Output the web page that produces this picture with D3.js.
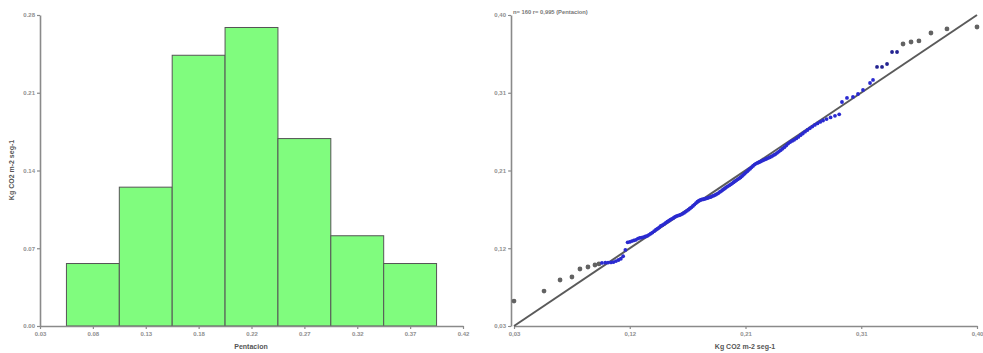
<!DOCTYPE html>
<html>
<head>
<meta charset="utf-8">
<script src="https://cdn.jsdelivr.net/npm/d3@7"></script>
<style>
  html, body { margin: 0; padding: 0; background: #fff; }
  svg { display: block; font-family: "Liberation Sans", Arial, sans-serif; }
</style>
</head>
<body>
<svg id="chart" width="983" height="353"></svg>
<script>
// ---- Histogram: relative frequency of Pentacion flux per class ----
const histCenters = [0.07875, 0.1275, 0.17625, 0.225, 0.27375, 0.3225, 0.37125];
const histShares  = [0.05625, 0.125, 0.24375, 0.26875, 0.16875, 0.08125, 0.05625];
const histBinWidth = 0.04875;
const histXTicks  = [0.03, 0.07875, 0.1275, 0.17625, 0.225, 0.27375, 0.3225, 0.37125, 0.42];
const histXLabels = ["0.03", "0.08", "0.13", "0.18", "0.22", "0.27", "0.32", "0.37", "0.42"];
const histYTicks  = [0, 0.07, 0.14, 0.21, 0.28];
const histYLabels = ["0.00", "0.07", "0.14", "0.21", "0.28"];

// ---- Q-Q plot: expected vs observed quantiles ----
const qqExpected = [
  0.0300, 0.0540, 0.0668, 0.0763, 0.0827, 0.0891, 0.0947, 0.0979,
  0.1003, 0.1030, 0.1052, 0.1075, 0.1095, 0.1115, 0.1135, 0.1154, 0.1172,
  0.1190, 0.1208, 0.1225, 0.1242, 0.1258, 0.1274, 0.1290, 0.1305,
  0.1320, 0.1335, 0.1350, 0.1364, 0.1378, 0.1392, 0.1406, 0.1420, 0.1434, 0.1447, 0.1460,
  0.1473, 0.1486, 0.1499, 0.1512, 0.1525, 0.1538, 0.1550, 0.1562, 0.1574, 0.1586, 0.1598,
  0.1610, 0.1622, 0.1634, 0.1646, 0.1658, 0.1670, 0.1682, 0.1694, 0.1706, 0.1718, 0.1730,
  0.1742, 0.1754, 0.1766, 0.1778, 0.1790,
  0.1802, 0.1813, 0.1824, 0.1835, 0.1846, 0.1857, 0.1868, 0.1879, 0.1890, 0.1901, 0.1912,
  0.1923, 0.1934, 0.1945, 0.1956, 0.1967, 0.1978, 0.1989,
  0.2000, 0.2011, 0.2022, 0.2033, 0.2044, 0.2055, 0.2066, 0.2077, 0.2088, 0.2099, 0.2110,
  0.2121, 0.2132, 0.2143, 0.2154, 0.2165, 0.2176, 0.2187, 0.2198,
  0.2210, 0.2222, 0.2234, 0.2246, 0.2258, 0.2270, 0.2282, 0.2294, 0.2306, 0.2318, 0.2330,
  0.2342, 0.2354, 0.2366, 0.2378, 0.2390,
  0.2403, 0.2417, 0.2431, 0.2446, 0.2461, 0.2476, 0.2491, 0.2507, 0.2523, 0.2539, 0.2556,
  0.2573, 0.2590, 0.2608, 0.2626, 0.2645, 0.2664, 0.2684, 0.2704, 0.2725, 0.2747, 0.2770,
  0.2798, 0.2830, 0.2865, 0.2899,
  0.2921, 0.2961, 0.3009, 0.3049, 0.3089, 0.3145, 0.3169,
  0.3201, 0.3241, 0.3281, 0.3321, 0.3361,
  0.3409, 0.3473, 0.3536, 0.3632, 0.3760, 0.4000
];
const qqObserved = [
  0.0597, 0.0716, 0.0847, 0.0883, 0.0978, 0.1002, 0.1026, 0.1038,
  0.1050, 0.1053, 0.1055, 0.1056, 0.1060, 0.1072, 0.1085, 0.1100, 0.1130,
  0.1205, 0.1295, 0.1300, 0.1310, 0.1318, 0.1325, 0.1340, 0.1348,
  0.1352, 0.1358, 0.1365, 0.1372, 0.1385, 0.1398, 0.1412, 0.1428, 0.1445, 0.1458, 0.1472,
  0.1490, 0.1500, 0.1512, 0.1528, 0.1540, 0.1552, 0.1565, 0.1575, 0.1585, 0.1598, 0.1608,
  0.1612, 0.1618, 0.1626, 0.1634, 0.1645, 0.1658, 0.1670, 0.1684, 0.1698, 0.1712, 0.1728,
  0.1745, 0.1762, 0.1778, 0.1790, 0.1800,
  0.1805, 0.1808, 0.1812, 0.1818, 0.1822, 0.1828, 0.1833, 0.1840, 0.1848, 0.1855, 0.1862,
  0.1872, 0.1882, 0.1895, 0.1905, 0.1918, 0.1930, 0.1942,
  0.1955, 0.1965, 0.1975, 0.1986, 0.1998, 0.2010, 0.2022, 0.2033, 0.2045, 0.2056, 0.2068,
  0.2082, 0.2098, 0.2112, 0.2128, 0.2142, 0.2158, 0.2172, 0.2188,
  0.2205, 0.2220, 0.2232, 0.2240, 0.2248, 0.2256, 0.2265, 0.2274, 0.2282, 0.2290, 0.2298,
  0.2306, 0.2315, 0.2325, 0.2335, 0.2345,
  0.2360, 0.2375, 0.2392, 0.2410, 0.2428, 0.2448, 0.2470, 0.2488, 0.2502, 0.2515, 0.2532,
  0.2550, 0.2570, 0.2590, 0.2612, 0.2632, 0.2652, 0.2672, 0.2692, 0.2710, 0.2728, 0.2745,
  0.2762, 0.2782, 0.2800, 0.2818,
  0.2965, 0.3013, 0.3025, 0.3060, 0.3108, 0.3191, 0.3227,
  0.3382, 0.3382, 0.3417, 0.3560, 0.3560,
  0.3655, 0.3679, 0.3691, 0.3786, 0.3834, 0.3857
];
const qqTails = [8, 6];  // points drawn grey at the low and high end
const qqTicks  = [0.03, 0.1225, 0.215, 0.3075, 0.40];
const qqLabels = ["0,03", "0,12", "0,21", "0,31", "0,40"];
const qqNote = "n= 160 r= 0,995 (Pentacion)";
const unitLabel = "Kg CO2 m-2 seg-1";
const histXTitle = "Pentacion";

const svg = d3.select("#chart");

function styleAxis(g) {
  g.select(".domain").attr("stroke", "#8a8a8a").attr("stroke-width", 1.6);
  g.selectAll(".tick line").attr("stroke", "#8a8a8a").attr("stroke-width", 1.2);
  g.selectAll(".tick text")
    .attr("fill", "#8f8f8f")
    .style("font-size", "6px")
    .style("font-weight", "bold")
    .style("font-family", "'Liberation Sans', Arial, sans-serif");
}

// ===== Histogram =====
const xL = d3.scaleLinear().domain([0.03, 0.42]).range([40, 463]);
const yL = d3.scaleLinear().domain([0, 0.28]).range([326, 15]);

svg.append("g")
  .selectAll("rect")
  .data(histCenters)
  .join("rect")
  .attr("x", d => xL(d - histBinWidth / 2))
  .attr("width", d => xL(d + histBinWidth / 2) - xL(d - histBinWidth / 2))
  .attr("y", (d, i) => yL(histShares[i]))
  .attr("height", (d, i) => yL(0) - yL(histShares[i]))
  .attr("fill", "#80fc7e")
  .attr("stroke", "#555")
  .attr("stroke-width", 1);

svg.append("g")
  .attr("transform", "translate(0,326)")
  .call(d3.axisBottom(xL).tickValues(histXTicks).tickFormat((d, i) => histXLabels[i]).tickSize(3).tickSizeOuter(0).tickPadding(3))
  .call(styleAxis);

svg.append("g")
  .attr("transform", "translate(40,0)")
  .call(d3.axisLeft(yL).tickValues(histYTicks).tickFormat((d, i) => histYLabels[i]).tickSize(3).tickSizeOuter(0).tickPadding(2))
  .call(styleAxis);

svg.append("text")
  .attr("x", 251).attr("y", 349)
  .attr("text-anchor", "middle")
  .attr("fill", "#555")
  .style("font-size", "7px").style("font-weight", "bold")
  .text(histXTitle);

svg.append("text")
  .attr("transform", "translate(14,170) rotate(-90)")
  .attr("text-anchor", "middle")
  .attr("fill", "#555")
  .style("font-size", "7px").style("font-weight", "bold")
  .text(unitLabel);

// ===== Q-Q plot =====
const xR = d3.scaleLinear().domain([0.03, 0.40]).range([514, 977]);
const yR = d3.scaleLinear().domain([0.03, 0.40]).range([326, 15]);

svg.append("g")
  .attr("transform", "translate(0,326)")
  .call(d3.axisBottom(xR).tickValues(qqTicks).tickFormat((d, i) => qqLabels[i]).tickSize(3).tickSizeOuter(0).tickPadding(3))
  .call(styleAxis);

svg.append("g")
  .attr("transform", "translate(511,0)")
  .call(d3.axisLeft(yR).tickValues(qqTicks).tickFormat((d, i) => qqLabels[i]).tickSize(3).tickSizeOuter(0).tickPadding(2))
  .call(styleAxis);

// reference line y = x
svg.append("line")
  .attr("x1", xR(0.03)).attr("y1", yR(0.03))
  .attr("x2", xR(0.40)).attr("y2", yR(0.40))
  .attr("stroke", "#5a5a5a")
  .attr("stroke-width", 2);

const n = qqExpected.length;
const isTail = i => i < qqTails[0] || i >= n - qqTails[1];

svg.append("g")
  .selectAll("circle")
  .data(qqExpected)
  .join("circle")
  .attr("cx", d => xR(d))
  .attr("cy", (d, i) => yR(qqObserved[i]))
  .attr("r", (d, i) => isTail(i) ? 2.4 : 1.9)
  .attr("fill", (d, i) => isTail(i) ? "#626262" : (i >= n - qqTails[1] - 5 ? "#232391" : "#2a2ad0"));

svg.append("text")
  .attr("x", 513).attr("y", 14)
  .attr("fill", "#777")
  .style("font-size", "5.8px").style("font-weight", "bold")
  .text(qqNote);

svg.append("text")
  .attr("x", 745).attr("y", 349)
  .attr("text-anchor", "middle")
  .attr("fill", "#555")
  .style("font-size", "7px").style("font-weight", "bold")
  .text(unitLabel);
</script>
</body>
</html>
